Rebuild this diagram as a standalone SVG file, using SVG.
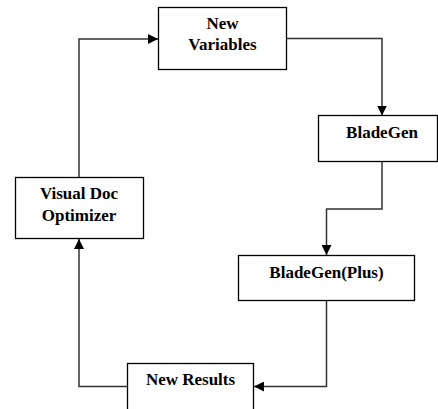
<svg xmlns="http://www.w3.org/2000/svg" width="438" height="409" viewBox="0 0 438 409">
<style>
.box{fill:#fff;stroke:#000;stroke-width:1.3}
.t{font-family:"Liberation Serif","Times New Roman",serif;font-weight:bold;font-size:17px;text-anchor:middle;fill:#000}
.c{fill:none;stroke:#333;stroke-width:1.5}
</style>
<defs>
<marker id="ah" markerWidth="10" markerHeight="10" refX="10" refY="5" orient="auto" markerUnits="userSpaceOnUse">
<path d="M0,0 L10,5 L0,10 Z" fill="#000"/>
</marker>
</defs>
<rect width="438" height="409" fill="#fff"/>
<g id="connectors">
<path class="c" d="M79,177 V39 H158" marker-end="url(#ah)"/>
<path class="c" d="M287,38.5 H382 V115.5" marker-end="url(#ah)"/>
<path class="c" d="M382,162 V209 H326.5 V255" marker-end="url(#ah)"/>
<path class="c" d="M326.5,301 V386.5 H254" marker-end="url(#ah)"/>
<path class="c" d="M127,386.5 H79 V239" marker-end="url(#ah)"/>
</g>
<g id="new-variables">
<rect class="box" x="158.5" y="7.5" width="128" height="62"/>
<text class="t" x="222.5" y="29">New</text>
<text class="t" x="222.5" y="50">Variables</text>
</g>
<g id="bladegen">
<rect class="box" x="318.5" y="115.5" width="119" height="46"/>
<text class="t" x="382" y="138">BladeGen</text>
</g>
<g id="bladegen-plus">
<rect class="box" x="238.5" y="255.5" width="176" height="45"/>
<text class="t" x="326.5" y="278">BladeGen(Plus)</text>
</g>
<g id="visual-doc-optimizer">
<rect class="box" x="15.5" y="177.5" width="128" height="61"/>
<text class="t" x="79" y="199">Visual Doc</text>
<text class="t" x="79" y="221">Optimizer</text>
</g>
<g id="new-results">
<rect class="box" x="127.5" y="363.5" width="126" height="50"/>
<text class="t" x="190.5" y="385">New Results</text>
</g>
</svg>
